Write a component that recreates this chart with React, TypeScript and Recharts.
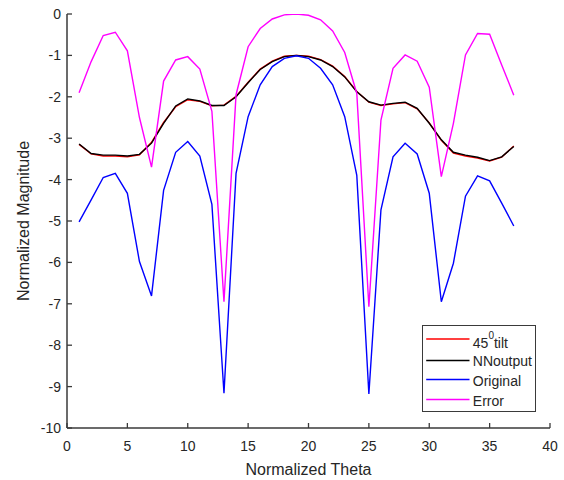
import React from 'react';
import { LineChart, Line, XAxis, YAxis, Legend } from 'recharts';

const theta = [1, 2, 3, 4, 5, 6, 7, 8, 9, 10, 11, 12, 13, 14, 15, 16, 17, 18, 19, 20, 21, 22, 23, 24, 25, 26, 27, 28, 29, 30, 31, 32, 33, 34, 35, 36, 37];

const tilt45 = [-3.15, -3.38, -3.43, -3.43, -3.45, -3.40, -3.10, -2.62, -2.24, -2.07, -2.11, -2.22, -2.20, -1.99, -1.65, -1.33, -1.14, -1.02, -1.0, -1.02, -1.10, -1.26, -1.51, -1.87, -2.13, -2.21, -2.17, -2.14, -2.29, -2.63, -3.05, -3.36, -3.43, -3.48, -3.55, -3.46, -3.19];

const nnOutput = [-3.14, -3.37, -3.41, -3.41, -3.43, -3.39, -3.12, -2.64, -2.22, -2.05, -2.10, -2.21, -2.21, -2.0, -1.66, -1.34, -1.15, -1.03, -1.0, -1.03, -1.11, -1.27, -1.52, -1.88, -2.12, -2.20, -2.16, -2.13, -2.28, -2.64, -3.04, -3.34, -3.41, -3.46, -3.54, -3.45, -3.20];

const original = [-5.02, -4.49, -3.95, -3.85, -4.33, -5.98, -6.81, -4.26, -3.34, -3.08, -3.43, -4.6, -9.16, -3.85, -2.48, -1.71, -1.27, -1.07, -1.01, -1.07, -1.31, -1.71, -2.48, -3.9, -9.18, -4.73, -3.45, -3.12, -3.38, -4.33, -6.95, -6.02, -4.4, -3.91, -4.03, -4.57, -5.12];

const errorVals = [-1.9, -1.15, -0.52, -0.44, -0.89, -2.5, -3.7, -1.62, -1.11, -1.03, -1.33, -2.35, -6.95, -1.95, -0.79, -0.35, -0.12, -0.02, 0, -0.03, -0.14, -0.41, -0.93, -1.92, -7.07, -2.56, -1.31, -0.99, -1.14, -1.77, -3.93, -2.64, -0.99, -0.47, -0.49, -1.23, -1.96];

const xTicks = [0, 5, 10, 15, 20, 25, 30, 35, 40];
const yTicks = [-10, -9, -8, -7, -6, -5, -4, -3, -2, -1, 0];

const seriesKeys = ['tilt', 'nn', 'orig', 'err'];
const seriesNames = ['45^0tilt', 'NNoutput', 'Original', 'Error'];
const seriesColors = ['#ff0000', '#000000', '#0000ff', '#ff00ff'];

const data = theta.map((t, i) => ({
  theta: t,
  tilt: tilt45[i],
  nn: nnOutput[i],
  orig: original[i],
  err: errorVals[i],
}));

const FONT = '"Liberation Sans", Arial, Helvetica, sans-serif';
const AXIS_COLOR = '#3a3a3a';
const TEXT_COLOR = '#262626';
const TICK_LEN = 5;
const LINE_W = 1.4;

const BottomTick = (props: any) => {
  const { x, y, payload } = props;
  return (
    <g>
      <line x1={x} x2={x} y1={y} y2={y - TICK_LEN} stroke={AXIS_COLOR} strokeWidth={1.3} />
      <text x={x} y={y + 23} textAnchor="middle" fontSize={14} fontFamily={FONT} fill={TEXT_COLOR}>
        {payload.value}
      </text>
    </g>
  );
};

const TopTick = (props: any) => {
  const { x, y } = props;
  return <line x1={x} x2={x} y1={y} y2={y + TICK_LEN} stroke={AXIS_COLOR} strokeWidth={1.3} />;
};

const LeftTick = (props: any) => {
  const { x, y, payload } = props;
  return (
    <g>
      <line x1={x} x2={x + TICK_LEN} y1={y} y2={y} stroke={AXIS_COLOR} strokeWidth={1.3} />
      <text x={x - 6} y={y + 5} textAnchor="end" fontSize={14} fontFamily={FONT} fill={TEXT_COLOR}>
        {payload.value}
      </text>
    </g>
  );
};

const RightTick = (props: any) => {
  const { x, y } = props;
  return <line x1={x} x2={x - TICK_LEN} y1={y} y2={y} stroke={AXIS_COLOR} strokeWidth={1.3} />;
};

const renderName = (name: string) => {
  if (name.includes('^')) {
    const [base, rest] = name.split('^');
    const sup = rest.charAt(0);
    const tail = rest.slice(1);
    return (
      <>
        <tspan>{base}</tspan>
        <tspan dy={-9} fontSize={10}>{sup}</tspan>
        <tspan dy={9}>{tail}</tspan>
      </>
    );
  }
  return name;
};

const rowLineY = [13, 34.5, 53.5, 73.5];
const rowTextY = [21.8, 40.2, 59.6, 80.2];

const LegendBox = () => (
  <div
    style={{
      width: 114,
      height: 87,
      boxSizing: 'border-box',
      border: `1.5px solid ${AXIS_COLOR}`,
      background: '#ffffff',
    }}
  >
    <svg width={111} height={84} style={{ display: 'block' }}>
      {seriesNames.map((n, i) => (
        <g key={n}>
          <line x1={3.2} x2={46.5} y1={rowLineY[i]} y2={rowLineY[i]} stroke={seriesColors[i]} strokeWidth={LINE_W} />
          <text x={49.8} y={rowTextY[i]} fontSize={14} fontFamily={FONT} fill={TEXT_COLOR}>
            {renderName(n)}
          </text>
        </g>
      ))}
    </svg>
  </div>
);

export default function App() {
  return (
    <div style={{ position: 'absolute', left: 0, top: 0, width: 564, height: 480, background: '#ffffff' }}>
      <LineChart width={564} height={480} data={data} margin={{ top: 14, right: 14, bottom: 0, left: 0 }}>
        <XAxis
          xAxisId="b"
          dataKey="theta"
          type="number"
          domain={[0, 40]}
          ticks={xTicks}
          allowDataOverflow
          height={52}
          tickSize={0}
          tickMargin={0}
          tickLine={false}
          axisLine={{ stroke: AXIS_COLOR, strokeWidth: 1.5 }}
          tick={<BottomTick />}
          interval={0}
          label={(p: any) => {
            const vb = p.viewBox;
            return (
              <text x={vb.x + vb.width / 2} y={vb.y + 47} textAnchor="middle" fontSize={16} fontFamily={FONT} fill={TEXT_COLOR}>
                Normalized Theta
              </text>
            );
          }}
        />
        <XAxis
          xAxisId="t"
          orientation="top"
          dataKey="theta"
          type="number"
          domain={[0, 40]}
          ticks={xTicks}
          allowDataOverflow
          height={0}
          tickSize={0}
          tickMargin={0}
          tickLine={false}
          axisLine={{ stroke: AXIS_COLOR, strokeWidth: 1.5 }}
          tick={<TopTick />}
          interval={0}
        />
        <YAxis
          yAxisId="l"
          type="number"
          domain={[-10, 0]}
          ticks={yTicks}
          allowDataOverflow
          width={67}
          tickSize={0}
          tickMargin={0}
          tickLine={false}
          axisLine={{ stroke: AXIS_COLOR, strokeWidth: 1.5 }}
          tick={<LeftTick />}
          interval={0}
          label={(p: any) => {
            const vb = p.viewBox;
            const cx = 29;
            const cy = vb.y + vb.height / 2;
            return (
              <text x={cx} y={cy} transform={`rotate(-90, ${cx}, ${cy})`} textAnchor="middle" fontSize={16} fontFamily={FONT} fill={TEXT_COLOR}>
                Normalized Magnitude
              </text>
            );
          }}
        />
        <YAxis
          yAxisId="r"
          orientation="right"
          type="number"
          domain={[-10, 0]}
          ticks={yTicks}
          allowDataOverflow
          width={0}
          tickSize={0}
          tickMargin={0}
          tickLine={false}
          axisLine={{ stroke: AXIS_COLOR, strokeWidth: 1.5 }}
          tick={<RightTick />}
          interval={0}
        />
        {seriesKeys.map((k, i) => (
          <Line
            key={k}
            xAxisId="b"
            yAxisId="l"
            type="linear"
            dataKey={k}
            name={seriesNames[i]}
            stroke={seriesColors[i]}
            strokeWidth={LINE_W}
            dot={false}
            activeDot={false}
            isAnimationActive={false}
          />
        ))}
        <Legend
          layout="vertical"
          align="center"
          verticalAlign="middle"
          width={114}
          height={87}
          wrapperStyle={{ left: 422, top: 325, width: 114, height: 87 }}
          content={() => <LegendBox />}
        />
      </LineChart>
    </div>
  );
}
